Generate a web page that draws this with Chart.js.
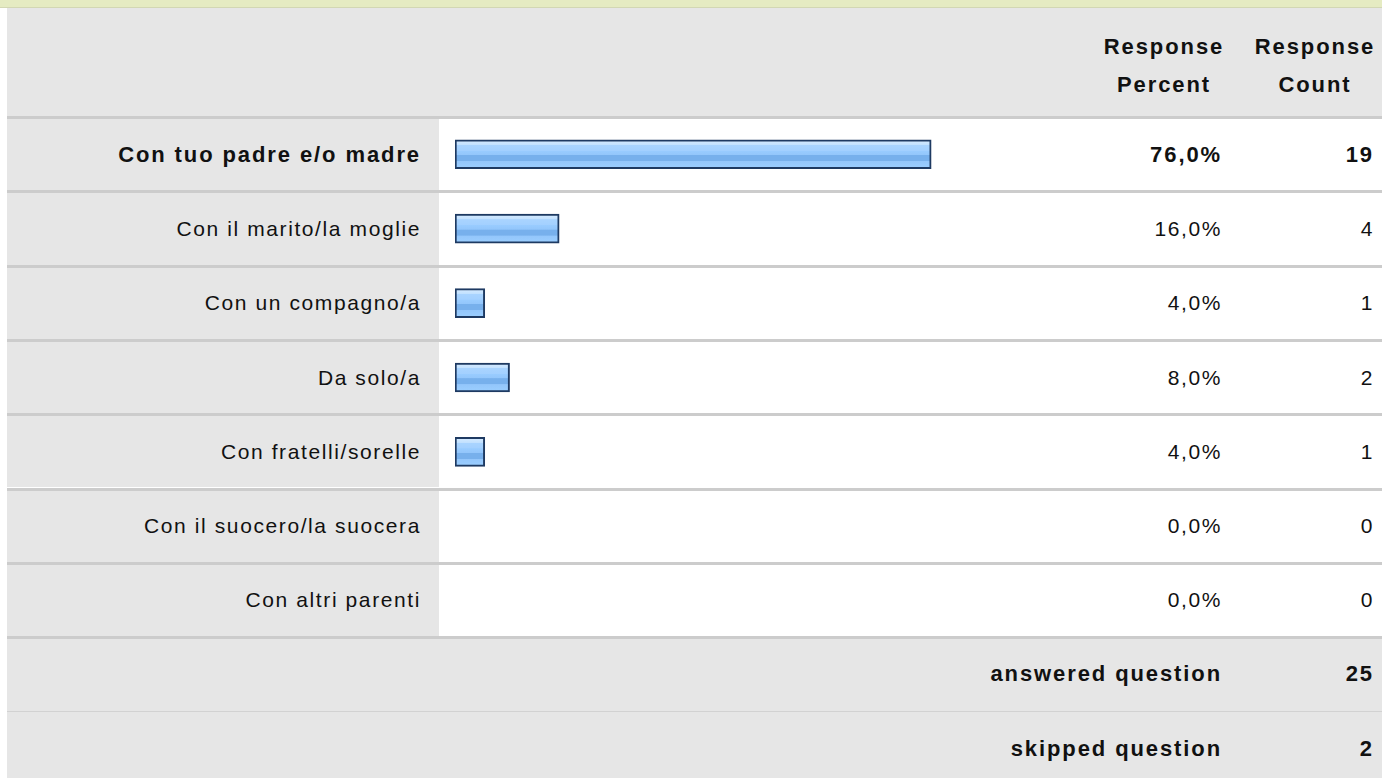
<!DOCTYPE html>
<html>
<head>
<meta charset="utf-8">
<script src="https://cdn.jsdelivr.net/npm/chart.js@4"></script>
<style>
    body { margin: 0; background: #fff; font-family: "Liberation Sans", Arial, sans-serif; }
    #page { position: relative; width: 1382px; height: 778px; overflow: hidden; }
    .box { position: absolute; }
    .txt { position: absolute; font-size: 21px; letter-spacing: 1.6px; color: #111; white-space: nowrap; }
    .b { font-weight: bold; font-size: 22px; letter-spacing: 1.9px; }
    #chartBox { position: absolute; left: 439px; top: 117px; width: 641px; height: 521px; }
</style>
</head>
<body>
<div id="page">
    <div id="chartBox"><canvas id="barsChart"></canvas></div>
</div>
<script>
const categories = [
    'Con tuo padre e/o madre',
    'Con il marito/la moglie',
    'Con un compagno/a',
    'Da solo/a',
    'Con fratelli/sorelle',
    'Con il suocero/la suocera',
    'Con altri parenti'
];
const percents = [76.0, 16.0, 4.0, 8.0, 4.0, 0.0, 0.0];
const counts = [19, 4, 1, 2, 1, 0, 0];
const headerPercent = ['Response', 'Percent'];
const headerCount = ['Response', 'Count'];
const summaryLabels = ['answered question', 'skipped question'];
const summaryValues = [25, 2];

const page = document.getElementById('page');
const rowTop = 116, rowH = 74.3;

function box(left, top, width, height, bg) {
    const d = document.createElement('div');
    d.className = 'box';
    d.style.cssText = `left:${left}px;top:${top}px;width:${width}px;height:${height}px;background:${bg}`;
    page.insertBefore(d, page.firstChild);
    return d;
}

function text(str, left, width, centerY, align, bold) {
    const d = document.createElement('div');
    d.className = 'txt' + (bold ? ' b' : '');
    d.textContent = str;
    d.style.left = left + 'px';
    d.style.width = width + 'px';
    d.style.top = (centerY - 15) + 'px';
    d.style.lineHeight = '30px';
    d.style.textAlign = align;
    if (align === 'right') d.style.marginRight = bold ? '-1.9px' : '-1.6px';
    page.appendChild(d);
}

// backgrounds
box(0, 0, 1382, 7, '#e5ebc2');
box(0, 7, 1382, 1, '#d2d7b4');
box(7, 8, 1375, 108, '#e6e6e6');
categories.forEach((c, i) => {
    const top = rowTop + i * rowH;
    box(7, top, 1375, 3, '#cccccc');
    box(7, top + 3, 432, rowH - 3, '#e6e6e6');
});
const sumTop = rowTop + categories.length * rowH;
box(7, sumTop, 1375, 3, '#cccccc');
box(7, sumTop + 3, 1375, 72, '#e6e6e6');
box(7, sumTop + 75, 1375, 1, '#d2d2d2');
box(7, sumTop + 76, 1375, 80, '#e6e6e6');

// header text
headerPercent.forEach((t, k) => text(t, 1084, 160, 47 + k * 38, 'center', true));
headerCount.forEach((t, k) => text(t, 1240, 150, 47 + k * 38, 'center', true));

// rows
categories.forEach((c, i) => {
    const cy = rowTop + 3 + (rowH - 3) / 2 + i * rowH;
    const bold = i === 0;
    text(c, 7, 414, cy, 'right', bold);
    text(percents[i].toFixed(1).replace('.', ',') + '%', 1080, 142, cy, 'right', bold);
    text(String(counts[i]), 1240, 134, cy, 'right', bold);
});
summaryLabels.forEach((s, k) => {
    const cy = sumTop + 38 + k * 75;
    text(s, 700, 522, cy, 'right', true);
    text(String(summaryValues[k]), 1240, 134, cy, 'right', true);
});

function barFill(ctx) {
    const chart = ctx.chart;
    const yScale = chart.scales && chart.scales.y;
    if (!yScale || ctx.type !== 'data') return '#99ccff';
    if (!ctx.raw) return 'transparent';
    const c = yScale.getPixelForValue(ctx.dataIndex);
    if (!isFinite(c)) return '#99ccff';
    const g = chart.ctx.createLinearGradient(0, c - 13, 0, c + 13);
    g.addColorStop(0, '#d2e9ff');
    g.addColorStop(0.14, '#c2e1ff');
    g.addColorStop(0.15, '#a9d4ff');
    g.addColorStop(0.36, '#a3d0ff');
    g.addColorStop(0.37, '#99ccff');
    g.addColorStop(0.53, '#93c6fb');
    g.addColorStop(0.54, '#77b0ec');
    g.addColorStop(0.76, '#77b0ec');
    g.addColorStop(0.77, '#93c6fb');
    g.addColorStop(1, '#9acdfe');
    return g;
}

const barsChart = new Chart(document.getElementById('barsChart').getContext('2d'), {
    type: 'bar',
    data: {
        labels: categories,
        datasets: [{
            data: percents,
            base: -0.8,
            barThickness: 29,
            borderWidth: 2,
            borderSkipped: false,
            borderColor: ctx => ctx.raw ? '#1e3a62' : 'transparent',
            backgroundColor: barFill
        }]
    },
    options: {
        indexAxis: 'y',
        responsive: true,
        maintainAspectRatio: false,
        animation: false,
        layout: { padding: { left: 16, right: 0, top: 0, bottom: 0 } },
        scales: {
            x: { display: false, min: -0.8, max: 100 },
            y: { display: false }
        },
        plugins: {
            legend: { display: false },
            tooltip: { enabled: false }
        }
    }
});
</script>
</body>
</html>
